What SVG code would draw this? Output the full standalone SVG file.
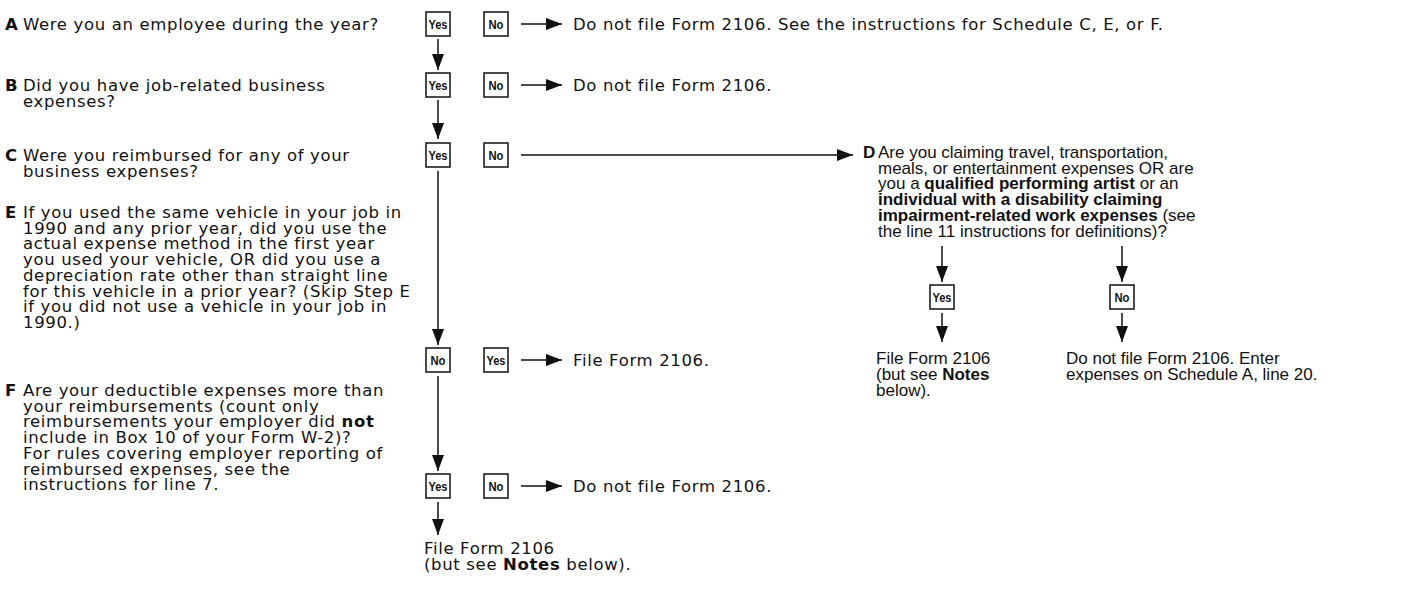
<svg xmlns="http://www.w3.org/2000/svg" width="1402" height="600" viewBox="0 0 1402 600">
<style>
.t{font-family:"DejaVu Sans","Liberation Sans",sans-serif;font-size:16.5px;letter-spacing:0.65px;fill:#111}
.d{font-family:"Liberation Sans",Arial,sans-serif;font-size:17px;fill:#111}
.b{font-weight:bold}
.box{fill:#fff;stroke:#111;stroke-width:1.5}
.bt{font-family:"Liberation Sans",Arial,sans-serif;font-size:13px;font-weight:bold;fill:#111;text-anchor:middle}
.c{stroke:#111;stroke-width:1.5;fill:none;marker-end:url(#ah)}
</style>
<defs>
<marker id="ah" markerWidth="16" markerHeight="12" refX="16" refY="6" orient="auto" markerUnits="userSpaceOnUse"><path d="M0,0 L16,6 L0,12 z" fill="#111"/></marker>
</defs>
<rect width="1402" height="600" fill="#fff"/>

<g id="qA"><text class="t b" x="5" y="30" letter-spacing="0">A</text><text class="t" x="23" y="30">Were you an employee during the year?</text></g>
<g id="qB"><text class="t b" x="5" y="91" letter-spacing="0">B</text><text class="t" x="23" y="91">Did you have job-related business</text><text class="t" x="23" y="107">expenses?</text></g>
<g id="qC"><text class="t b" x="5" y="161" letter-spacing="0">C</text><text class="t" x="23" y="161">Were you reimbursed for any of your</text><text class="t" x="23" y="177">business expenses?</text></g>
<g id="qE"><text class="t b" x="5" y="218" letter-spacing="0">E</text>
<text class="t" x="23" y="218">If you used the same vehicle in your job in</text>
<text class="t" x="23" y="233.7">1990 and any prior year, did you use the</text>
<text class="t" x="23" y="249.4">actual expense method in the first year</text>
<text class="t" x="23" y="265.1">you used your vehicle, OR did you use a</text>
<text class="t" x="23" y="280.8">depreciation rate other than straight line</text>
<text class="t" x="23" y="296.5">for this vehicle in a prior year? (Skip Step E</text>
<text class="t" x="23" y="312.2">if you did not use a vehicle in your job in</text>
<text class="t" x="23" y="327.9">1990.)</text></g>
<g id="qF"><text class="t b" x="5" y="396" letter-spacing="0">F</text>
<text class="t" x="23" y="396">Are your deductible expenses more than</text>
<text class="t" x="23" y="411.7">your reimbursements (count only</text>
<text class="t" x="23" y="427.4">reimbursements your employer did <tspan class="b">not</tspan></text>
<text class="t" x="23" y="443.1">include in Box 10 of your Form W-2)?</text>
<text class="t" x="23" y="458.8">For rules covering employer reporting of</text>
<text class="t" x="23" y="474.5">reimbursed expenses, see the</text>
<text class="t" x="23" y="490.2">instructions for line 7.</text></g>
<g id="qD"><text class="d b" x="863" y="158">D</text>
<text class="d" x="878" y="158">Are you claiming travel, transportation,</text>
<text class="d" x="878" y="173.7">meals, or entertainment expenses OR are</text>
<text class="d" x="878" y="189.4">you a <tspan class="b">qualified performing artist</tspan> or an</text>
<text class="d b" x="878" y="205.1">individual with a disability claiming</text>
<text class="d" x="878" y="220.8"><tspan class="b">impairment-related work expenses</tspan> (see</text>
<text class="d" x="878" y="236.5">the line 11 instructions for definitions)?</text></g>

<g id="aYes"><rect class="box" x="426" y="12" width="24" height="24"/><text class="bt" x="438" y="29" textLength="19" lengthAdjust="spacingAndGlyphs">Yes</text></g>
<g id="aNo"><rect class="box" x="484" y="12" width="24" height="24"/><text class="bt" x="496" y="29" textLength="15" lengthAdjust="spacingAndGlyphs">No</text></g>
<g id="bYes"><rect class="box" x="426" y="73" width="24" height="24"/><text class="bt" x="438" y="90" textLength="19" lengthAdjust="spacingAndGlyphs">Yes</text></g>
<g id="bNo"><rect class="box" x="484" y="73" width="24" height="24"/><text class="bt" x="496" y="90" textLength="15" lengthAdjust="spacingAndGlyphs">No</text></g>
<g id="cYes"><rect class="box" x="426" y="143" width="24" height="24"/><text class="bt" x="438" y="160" textLength="19" lengthAdjust="spacingAndGlyphs">Yes</text></g>
<g id="cNo"><rect class="box" x="484" y="143" width="24" height="24"/><text class="bt" x="496" y="160" textLength="15" lengthAdjust="spacingAndGlyphs">No</text></g>
<g id="eNo"><rect class="box" x="426" y="348" width="24" height="24"/><text class="bt" x="438" y="365" textLength="15" lengthAdjust="spacingAndGlyphs">No</text></g>
<g id="eYes"><rect class="box" x="484" y="348" width="24" height="24"/><text class="bt" x="496" y="365" textLength="19" lengthAdjust="spacingAndGlyphs">Yes</text></g>
<g id="fYes"><rect class="box" x="426" y="474" width="24" height="24"/><text class="bt" x="438" y="491" textLength="19" lengthAdjust="spacingAndGlyphs">Yes</text></g>
<g id="fNo"><rect class="box" x="484" y="474" width="24" height="24"/><text class="bt" x="496" y="491" textLength="15" lengthAdjust="spacingAndGlyphs">No</text></g>
<g id="dYes"><rect class="box" x="930" y="285" width="24" height="24"/><text class="bt" x="942" y="302" textLength="19" lengthAdjust="spacingAndGlyphs">Yes</text></g>
<g id="dNo"><rect class="box" x="1110" y="285" width="24" height="24"/><text class="bt" x="1122" y="302" textLength="15" lengthAdjust="spacingAndGlyphs">No</text></g>

<g id="oA"><text class="t" x="573" y="30">Do not file Form 2106. See the instructions for Schedule C, E, or F.</text></g>
<g id="oB"><text class="t" x="573" y="91">Do not file Form 2106.</text></g>
<g id="oE"><text class="t" x="573" y="366">File Form 2106.</text></g>
<g id="oF"><text class="t" x="573" y="492">Do not file Form 2106.</text></g>
<g id="oFyes"><text class="t" x="424" y="554">File Form 2106</text><text class="t" x="424" y="570">(but see <tspan class="b">Notes</tspan> below).</text></g>
<g id="oDyes"><text class="d" x="876" y="364">File Form 2106</text><text class="d" x="876" y="380">(but see <tspan class="b">Notes</tspan></text><text class="d" x="876" y="396">below).</text></g>
<g id="oDno"><text class="d" x="1066" y="364">Do not file Form 2106. Enter</text><text class="d" x="1066" y="380">expenses on Schedule A, line 20.</text></g>

<g id="connectors">
<line class="c" x1="438" y1="39" x2="438" y2="70"/>
<line class="c" x1="438" y1="100" x2="438" y2="139"/>
<line class="c" x1="438" y1="171" x2="438" y2="345"/>
<line class="c" x1="438" y1="376" x2="438" y2="471"/>
<line class="c" x1="438" y1="502" x2="438" y2="535"/>
<line class="c" x1="521" y1="24" x2="562" y2="24"/>
<line class="c" x1="521" y1="85" x2="562" y2="85"/>
<line class="c" x1="521" y1="155" x2="853" y2="155"/>
<line class="c" x1="521" y1="360" x2="562" y2="360"/>
<line class="c" x1="521" y1="486" x2="562" y2="486"/>
<line class="c" x1="942" y1="246" x2="942" y2="282"/>
<line class="c" x1="1122" y1="246" x2="1122" y2="282"/>
<line class="c" x1="942" y1="313" x2="942" y2="342"/>
<line class="c" x1="1122" y1="313" x2="1122" y2="342"/>
</g>
</svg>
